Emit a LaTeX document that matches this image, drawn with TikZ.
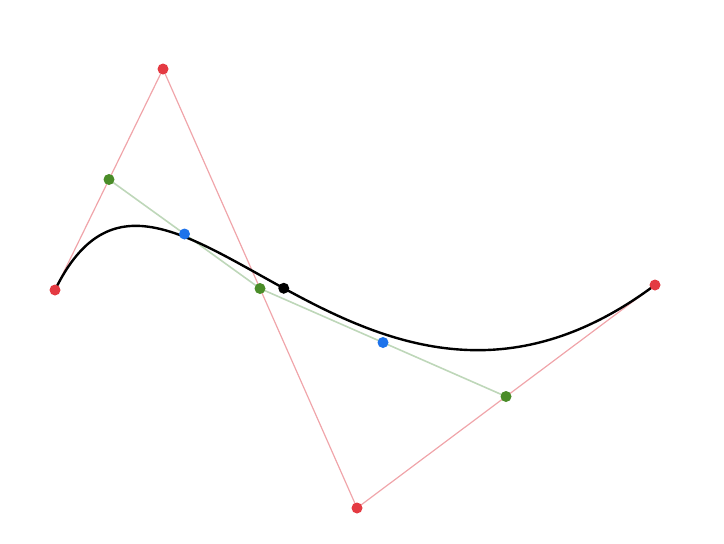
\documentclass[tikz,border=0pt]{standalone}
\definecolor{ptred}{RGB}{228,58,66}
\definecolor{pink}{RGB}{240,165,170}
\definecolor{ptgreen}{RGB}{74,140,40}
\definecolor{lgreen}{RGB}{190,215,185}
\definecolor{ptblue}{RGB}{30,115,235}
\begin{document}
\begin{tikzpicture}[x=1pt,y=-1pt,
  dot/.style={circle,inner sep=0pt,minimum size=11pt},
  rdot/.style={dot,fill=ptred},
  gdot/.style={dot,fill=ptgreen},
  bdot/.style={dot,fill=ptblue},
  kdot/.style={dot,fill=black},
  ctrl/.style={draw=pink,line width=1.2pt},
  mid/.style={draw=lgreen,line width=1.6pt},
  curve/.style={draw=black,line width=2.4pt}]
\useasboundingbox (0,0) rectangle (724,544);
\coordinate (p0) at (55,290);
\coordinate (p1) at (163,69);
\coordinate (p2) at (357,508);
\coordinate (p3) at (655,285);
\path (p0) -- (p1) coordinate[pos=0.5] (q0);
\path (p1) -- (p2) coordinate[pos=0.5] (q1);
\path (p2) -- (p3) coordinate[pos=0.5] (q2);
\path (q0) -- (q1) coordinate[pos=0.5] (r0);
\path (q1) -- (q2) coordinate[pos=0.5] (r1);
\path (r0) -- (r1) coordinate[pos=0.5] (s);
\draw[ctrl] (p0) -- (p1) -- (p2) -- (p3);
\draw[mid] (q0) -- (q1) -- (q2);
\draw[curve] (p0) .. controls (p1) and (p2) .. (p3);
\node[rdot] (n0) at (p0) {};
\node[rdot] (n1) at (p1) {};
\node[rdot] (n2) at (p2) {};
\node[rdot] (n3) at (p3) {};
\node[gdot] (m0) at (q0) {};
\node[gdot] (m1) at (q1) {};
\node[gdot] (m2) at (q2) {};
\node[bdot] (b0) at (r0) {};
\node[bdot] (b1) at (r1) {};
\node[kdot] (k) at (s) {};
\end{tikzpicture}
\end{document}
